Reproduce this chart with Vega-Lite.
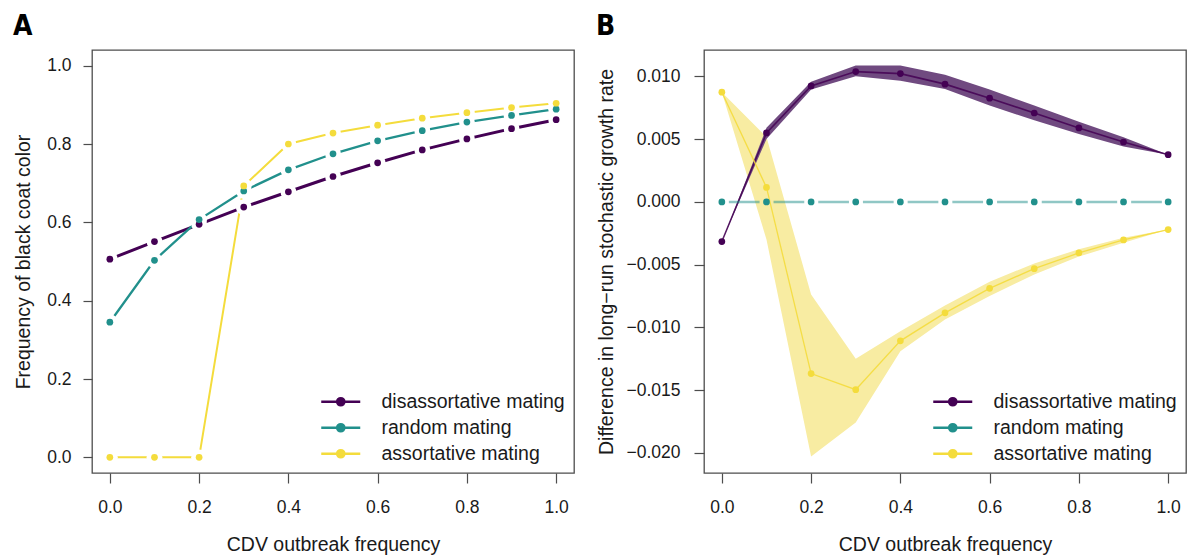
{
  "$schema": "https://vega.github.io/schema/vega-lite/v6.json",
  "padding": {"left": 12, "top": 12, "right": 0, "bottom": 0},
  "autosize": {"type": "pad"},
  "spacing": 20,
  "datasets": {
    "A": [
      {"mating": "disassortative mating", "x": 0.0, "y": 0.506},
      {"mating": "disassortative mating", "x": 0.1, "y": 0.551},
      {"mating": "disassortative mating", "x": 0.2, "y": 0.595},
      {"mating": "disassortative mating", "x": 0.3, "y": 0.639},
      {"mating": "disassortative mating", "x": 0.4, "y": 0.678},
      {"mating": "disassortative mating", "x": 0.5, "y": 0.717},
      {"mating": "disassortative mating", "x": 0.6, "y": 0.752},
      {"mating": "disassortative mating", "x": 0.7, "y": 0.785},
      {"mating": "disassortative mating", "x": 0.8, "y": 0.813},
      {"mating": "disassortative mating", "x": 0.9, "y": 0.839},
      {"mating": "disassortative mating", "x": 1.0, "y": 0.862},
      {"mating": "random mating", "x": 0.0, "y": 0.345},
      {"mating": "random mating", "x": 0.1, "y": 0.503},
      {"mating": "random mating", "x": 0.2, "y": 0.607},
      {"mating": "random mating", "x": 0.3, "y": 0.680},
      {"mating": "random mating", "x": 0.4, "y": 0.734},
      {"mating": "random mating", "x": 0.5, "y": 0.775},
      {"mating": "random mating", "x": 0.6, "y": 0.808},
      {"mating": "random mating", "x": 0.7, "y": 0.834},
      {"mating": "random mating", "x": 0.8, "y": 0.856},
      {"mating": "random mating", "x": 0.9, "y": 0.873},
      {"mating": "random mating", "x": 1.0, "y": 0.889},
      {"mating": "assortative mating", "x": 0.0, "y": 0.0},
      {"mating": "assortative mating", "x": 0.1, "y": 0.0},
      {"mating": "assortative mating", "x": 0.2, "y": 0.0},
      {"mating": "assortative mating", "x": 0.3, "y": 0.693},
      {"mating": "assortative mating", "x": 0.4, "y": 0.800},
      {"mating": "assortative mating", "x": 0.5, "y": 0.828},
      {"mating": "assortative mating", "x": 0.6, "y": 0.848},
      {"mating": "assortative mating", "x": 0.7, "y": 0.866},
      {"mating": "assortative mating", "x": 0.8, "y": 0.880},
      {"mating": "assortative mating", "x": 0.9, "y": 0.893},
      {"mating": "assortative mating", "x": 1.0, "y": 0.904}
    ],
    "B": [
      {"mating": "disassortative mating", "x": 0.0, "y": -0.00316, "lo": -0.00316, "hi": -0.00316},
      {"mating": "disassortative mating", "x": 0.1, "y": 0.00549, "lo": 0.0050, "hi": 0.0059},
      {"mating": "disassortative mating", "x": 0.2, "y": 0.00924, "lo": 0.00895, "hi": 0.00958},
      {"mating": "disassortative mating", "x": 0.3, "y": 0.01038, "lo": 0.01001, "hi": 0.01086},
      {"mating": "disassortative mating", "x": 0.4, "y": 0.01022, "lo": 0.00966, "hi": 0.01086},
      {"mating": "disassortative mating", "x": 0.5, "y": 0.00938, "lo": 0.0090, "hi": 0.01012},
      {"mating": "disassortative mating", "x": 0.6, "y": 0.00826, "lo": 0.00767, "hi": 0.00895},
      {"mating": "disassortative mating", "x": 0.7, "y": 0.00708, "lo": 0.0065, "hi": 0.00767},
      {"mating": "disassortative mating", "x": 0.8, "y": 0.00589, "lo": 0.0054, "hi": 0.00639},
      {"mating": "disassortative mating", "x": 0.9, "y": 0.00477, "lo": 0.00442, "hi": 0.00514},
      {"mating": "disassortative mating", "x": 1.0, "y": 0.00376, "lo": 0.00376, "hi": 0.00376},
      {"mating": "random mating", "x": 0.0, "y": 0.0},
      {"mating": "random mating", "x": 0.1, "y": 0.0},
      {"mating": "random mating", "x": 0.2, "y": 0.0},
      {"mating": "random mating", "x": 0.3, "y": 0.0},
      {"mating": "random mating", "x": 0.4, "y": 0.0},
      {"mating": "random mating", "x": 0.5, "y": 0.0},
      {"mating": "random mating", "x": 0.6, "y": 0.0},
      {"mating": "random mating", "x": 0.7, "y": 0.0},
      {"mating": "random mating", "x": 0.8, "y": 0.0},
      {"mating": "random mating", "x": 0.9, "y": 0.0},
      {"mating": "random mating", "x": 1.0, "y": 0.0},
      {"mating": "assortative mating", "x": 0.0, "y": 0.00874, "lo": 0.00874, "hi": 0.00874},
      {"mating": "assortative mating", "x": 0.1, "y": 0.00115, "lo": -0.0030, "hi": 0.00516},
      {"mating": "assortative mating", "x": 0.2, "y": -0.01368, "lo": -0.02028, "hi": -0.00737},
      {"mating": "assortative mating", "x": 0.3, "y": -0.01496, "lo": -0.01757, "hi": -0.01249},
      {"mating": "assortative mating", "x": 0.4, "y": -0.01107, "lo": -0.0119, "hi": -0.0103},
      {"mating": "assortative mating", "x": 0.5, "y": -0.00884, "lo": -0.00937, "hi": -0.00825},
      {"mating": "assortative mating", "x": 0.6, "y": -0.00689, "lo": -0.0075, "hi": -0.00636},
      {"mating": "assortative mating", "x": 0.7, "y": -0.00532, "lo": -0.00578, "hi": -0.0049},
      {"mating": "assortative mating", "x": 0.8, "y": -0.00407, "lo": -0.00436, "hi": -0.00378},
      {"mating": "assortative mating", "x": 0.9, "y": -0.00303, "lo": -0.00325, "hi": -0.00285},
      {"mating": "assortative mating", "x": 1.0, "y": -0.00221, "lo": -0.00221, "hi": -0.00221}
    ]
  },
  "config": {
    "font": "Liberation Sans",
    "view": {"stroke": "#4d4d4d", "strokeWidth": 1.3},
    "axis": {
      "domain": false, "grid": false,
      "tickColor": "#4d4d4d", "tickWidth": 1.2,
      "labelFont": "Liberation Sans", "labelFontSize": 17.5, "labelColor": "#1a1a1a",
      "titleFont": "Liberation Sans", "titleFontSize": 19.5, "titleFontWeight": "normal", "titleColor": "#1a1a1a"
    },
    "axisX": {"tickSize": 10, "labelPadding": 15, "minExtent": 43, "maxExtent": 43, "titlePadding": 19},
    "title": {
      "font": "'Liberation Sans Narrow', 'DejaVu Sans Condensed', sans-serif",
      "fontSize": 28, "fontWeight": "bold", "anchor": "start",
      "baseline": "alphabetic", "offset": 9, "color": "#000000"
    },
    "legend": {
      "orient": "bottom-right", "offset": 9, "padding": 0, "title": null,
      "labelFont": "Liberation Sans", "labelFontSize": 19.5, "labelColor": "#1a1a1a",
      "labelLimit": 400, "labelOffset": 31, "rowPadding": 5,
      "symbolType": "M -3.9 0 L 3.9 0 M 0.72 0 A 0.72 0.72 0 1 1 -0.72 0 A 0.72 0.72 0 1 1 0.72 0 Z",
      "symbolSize": 100, "symbolStrokeWidth": 2.5, "symbolOpacity": 1
    }
  },
  "resolve": {"legend": {"color": "independent"}},
  "hconcat": [
    {
      "title": {"text": "A"},
      "width": 482,
      "height": 423,
      "data": {"name": "A"},
      "encoding": {
        "x": {
          "field": "x", "type": "quantitative",
          "scale": {"domain": [-0.04, 1.04], "nice": false, "zero": false},
          "axis": {"title": "CDV outbreak frequency", "values": [0, 0.2, 0.4, 0.6, 0.8, 1.0], "format": ".1f"}
        },
        "y": {
          "field": "y", "type": "quantitative",
          "scale": {"domain": [-0.04, 1.04], "nice": false, "zero": false},
          "axis": {
            "title": "Frequency of black coat color", "values": [0, 0.2, 0.4, 0.6, 0.8, 1.0], "format": ".1f",
            "tickSize": 9, "labelPadding": 12, "minExtent": 45, "maxExtent": 45, "titlePadding": 14
          }
        }
      },
      "layer": [
        {
          "transform": [{"filter": "datum.mating === 'disassortative mating'"}],
          "mark": {"type": "line", "color": "#440154", "strokeWidth": 3},
          "encoding": {}
        },
        {
          "transform": [{"filter": "datum.mating === 'random mating'"}],
          "mark": {"type": "line", "color": "#21908C", "strokeWidth": 2.3},
          "encoding": {}
        },
        {
          "transform": [{"filter": "datum.mating === 'assortative mating'"}],
          "mark": {"type": "line", "color": "#F4DC3C", "strokeWidth": 2},
          "encoding": {}
        },
        {
          "mark": {"type": "point", "filled": true, "opacity": 1, "size": 250, "color": "white"},
          "encoding": {}
        },
        {
          "mark": {"type": "point", "filled": true, "opacity": 1, "size": 45},
          "encoding": {
            "color": {"field": "mating", "type": "nominal",
              "scale": {"domain": ["disassortative mating", "random mating", "assortative mating"], "range": ["#440154", "#21908C", "#F4DC3C"]},
              "legend": {
                "encode": {"symbols": {"update": {
                  "stroke": {"scale": "color", "field": "value"},
                  "fill": {"scale": "color", "field": "value"},
                  "strokeWidth": {"value": 2.5},
                  "opacity": {"value": 1}
                }}}
              }
            }
          }
        }
      ]
    },
    {
      "title": {"text": "B"},
      "width": 482,
      "height": 423,
      "data": {"name": "B"},
      "encoding": {
        "x": {
          "field": "x", "type": "quantitative",
          "scale": {"domain": [-0.04, 1.04], "nice": false, "zero": false},
          "axis": {"title": "CDV outbreak frequency", "values": [0, 0.2, 0.4, 0.6, 0.8, 1.0], "format": ".1f"}
        },
        "y": {
          "field": "y", "type": "quantitative",
          "scale": {"domain": [-0.0216, 0.0121], "nice": false, "zero": false},
          "axis": {
            "title": "Difference in long−run stochastic growth rate",
            "values": [-0.02, -0.015, -0.01, -0.005, 0, 0.005, 0.01], "format": ".3f",
            "tickSize": 10, "labelPadding": 14, "minExtent": 74, "maxExtent": 74, "titlePadding": 14
          }
        }
      },
      "layer": [
        {
          "transform": [{"filter": "datum.mating === 'assortative mating'"}],
          "mark": {"type": "area", "color": "#F8ECA2", "opacity": 1},
          "encoding": {"y": {"field": "lo", "type": "quantitative"}, "y2": {"field": "hi"}}
        },
        {
          "transform": [{"filter": "datum.mating === 'disassortative mating'"}],
          "mark": {"type": "area", "color": "#704A80", "opacity": 1},
          "encoding": {"y": {"field": "lo", "type": "quantitative"}, "y2": {"field": "hi"}}
        },
        {
          "transform": [{"filter": "datum.mating === 'disassortative mating'"}],
          "mark": {"type": "line", "color": "#440154", "strokeWidth": 1.6, "opacity": 0.85},
          "encoding": {}
        },
        {
          "transform": [{"filter": "datum.mating === 'random mating'"}],
          "mark": {"type": "line", "color": "#21908C", "strokeWidth": 2.5, "opacity": 0.5, "strokeDash": [30.7, 14], "strokeDashOffset": 37.7},
          "encoding": {}
        },
        {
          "transform": [{"filter": "datum.mating === 'assortative mating'"}],
          "mark": {"type": "line", "color": "#F4DC3C", "strokeWidth": 1.3, "opacity": 0.9},
          "encoding": {}
        },
        {
          "mark": {"type": "point", "filled": true, "opacity": 1, "size": 45},
          "encoding": {
            "color": {"field": "mating", "type": "nominal",
              "scale": {"domain": ["disassortative mating", "random mating", "assortative mating"], "range": ["#440154", "#21908C", "#F4DC3C"]},
              "legend": {
                "encode": {"symbols": {"update": {
                  "stroke": {"scale": "color", "field": "value"},
                  "fill": {"scale": "color", "field": "value"},
                  "strokeWidth": {"value": 2.5},
                  "opacity": {"value": 1}
                }}}
              }
            }
          }
        }
      ]
    }
  ]
}
